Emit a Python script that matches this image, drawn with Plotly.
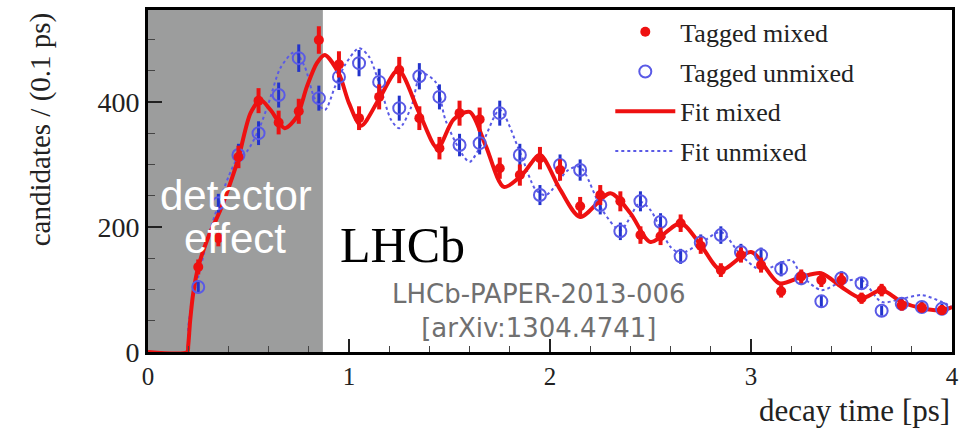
import plotly.graph_objects as go

# ---------------- data ----------------
bin_centers = [0.25, 0.35, 0.45, 0.55, 0.65, 0.75, 0.85, 0.95, 1.05, 1.15,
               1.25, 1.35, 1.45, 1.55, 1.65, 1.75, 1.85, 1.95, 2.05, 2.15,
               2.25, 2.35, 2.45, 2.55, 2.65, 2.75, 2.85, 2.95, 3.05, 3.15,
               3.25, 3.35, 3.45, 3.55, 3.65, 3.75, 3.85, 3.95]

tagged_mixed = [136, 182, 312, 402, 367, 385, 499, 460, 374, 408,
                451, 374, 326, 382, 372, 294, 283, 310, 291, 233,
                251, 241, 187, 185, 206, 170, 131, 155, 139, 97,
                121, 115, 115, 86, 99, 75, 71, 67]
tagged_mixed_err = [12, 13, 18, 20, 19, 20, 22, 21, 19, 20,
                    21, 19, 18, 20, 19, 17, 17, 18, 17, 15,
                    16, 16, 14, 14, 14, 13, 11, 12, 12, 10,
                    11, 11, 11, 9, 10, 9, 8, 8]

tagged_unmixed = [104, 238, 315, 350, 411, 470, 406, 440, 462, 432,
                  390, 441, 408, 331, 334, 382, 315, 251, 299, 291,
                  235, 193, 241, 208, 153, 175, 187, 160, 155, 133,
                  118, 81, 118, 110, 66, 77, 72, 69]
tagged_unmixed_err = [10, 15, 18, 19, 20, 22, 20, 21, 21, 21,
                      20, 21, 20, 18, 18, 20, 18, 16, 17, 17,
                      15, 14, 16, 14, 12, 13, 14, 13, 12, 12,
                      11, 9, 11, 10, 8, 9, 8, 8]

fit_mixed_t = [0.0, 0.195, 0.2, 0.21, 0.225, 0.25, 0.30, 0.36, 0.42, 0.45,
               0.51, 0.56, 0.61, 0.68, 0.74, 0.79, 0.84, 0.88, 0.95, 1.0,
               1.06, 1.15, 1.245, 1.35, 1.44, 1.52, 1.6, 1.68, 1.77, 1.86,
               1.95, 2.05, 2.15, 2.3, 2.4, 2.5, 2.65, 2.75, 2.85, 3.0,
               3.14, 3.25, 3.35, 3.45, 3.55, 3.65, 3.75, 3.85, 3.95, 4.0]
fit_mixed_y = [0, 0, 10, 51, 94, 136, 184, 227, 280, 310,
               382, 403, 387, 358, 376, 424, 462, 475, 445, 398,
               362, 405, 451, 382, 326, 372, 384, 330, 264, 283,
               315, 260, 216, 254, 222, 176, 206, 171, 131, 160,
               110, 120, 126, 104, 86, 99, 80, 70, 67, 72]

fit_unmixed_t = [0.0, 0.19, 0.2, 0.22, 0.25, 0.30, 0.35, 0.40, 0.45, 0.49,
                 0.55, 0.60, 0.66, 0.73, 0.78, 0.83, 0.88, 0.93, 0.98, 1.05,
                 1.10, 1.15, 1.21, 1.25, 1.31, 1.36, 1.43, 1.48, 1.56, 1.60,
                 1.67, 1.75, 1.85, 1.93, 1.98, 2.09, 2.15, 2.26, 2.35, 2.45,
                 2.50, 2.60, 2.65, 2.75, 2.85, 2.95, 3.05, 3.2, 3.25, 3.35,
                 3.45, 3.55, 3.65, 3.75, 3.85, 3.95, 4.0]
fit_unmixed_y = [0, 0, 40, 85, 120, 185, 235, 280, 312, 320,
                 355, 398, 455, 480, 456, 405, 387, 424, 459, 486,
                 472, 430, 371, 358, 392, 446, 432, 371, 318, 304,
                 339, 387, 320, 259, 251, 291, 296, 227, 195, 240,
                 227, 168, 158, 174, 192, 155, 131, 147, 123, 99,
                 112, 115, 80, 85, 91, 80, 72]

detector_region = [0.0, 0.87]

x_ticks = [0, 1, 2, 3, 4]
y_ticks = [0, 200, 400]

# ---------------- styles ----------------
RED = "#ee1111"
BLUE = "#2233cc"
LBLUE = "#5a5ae6"
SERIF = "Liberation Serif, Times New Roman, serif"
SANS = "Liberation Sans, Arial, sans-serif"

fig = go.Figure()

fig.add_trace(go.Scatter(
    x=fit_unmixed_t, y=fit_unmixed_y, mode="lines", name="Fit unmixed",
    line=dict(color=LBLUE, width=2, dash="dot", shape="spline", smoothing=0.8),
    legendrank=4, legendgroup="d"))
fig.add_trace(go.Scatter(
    x=fit_mixed_t, y=fit_mixed_y, mode="lines", name="Fit mixed",
    line=dict(color=RED, width=4, shape="spline", smoothing=0.8),
    legendrank=3, legendgroup="c"))
fig.add_trace(go.Scatter(
    x=bin_centers, y=tagged_unmixed, mode="markers", name="Tagged unmixed",
    marker=dict(symbol="circle-open", size=12, color=LBLUE, line=dict(width=2, color=LBLUE)),
    error_y=dict(type="data", array=tagged_unmixed_err, color=BLUE, thickness=3, width=0),
    legendrank=2, legendgroup="b"))
fig.add_trace(go.Scatter(
    x=bin_centers, y=tagged_mixed, mode="markers", name="Tagged mixed",
    marker=dict(symbol="circle", size=10, color=RED),
    error_y=dict(type="data", array=tagged_mixed_err, color=RED, thickness=4, width=0),
    legendrank=1, legendgroup="a"))

# detector-effect shaded region
fig.add_shape(type="rect", xref="x", yref="paper",
              x0=detector_region[0], x1=detector_region[1], y0=0, y1=1,
              fillcolor="#9c9d9d", line=dict(width=0), layer="below")

# texts
fig.add_annotation(x=0.44, y=251, xref="x", yref="y", text="detector", showarrow=False,
                   font=dict(family=SANS, size=42, color="white"))
fig.add_annotation(x=0.435, y=181, xref="x", yref="y", text="effect", showarrow=False,
                   font=dict(family=SANS, size=42, color="white"))
fig.add_annotation(x=1.264, y=171, xref="x", yref="y", text="LHCb", showarrow=False,
                   font=dict(family=SERIF, size=50, color="black"))
fig.add_annotation(x=1.945, y=66, xref="x", yref="y",
                   text="LHCb-PAPER-2013-006<br>[arXiv:1304.4741]",
                   showarrow=False, align="center",
                   font=dict(family="DejaVu Sans, sans-serif", size=26, color="#707070"))

# axis titles (placed as in the original: y title at top, x title at right)
fig.add_annotation(x=-0.134, y=1.0, xref="paper", yref="paper", xanchor="center",
                   yanchor="top", text="candidates / (0.1 ps)", textangle=-90,
                   showarrow=False, font=dict(family=SERIF, size=29, color="#222"))
fig.add_annotation(x=1.0, y=-0.170, xref="paper", yref="paper", xanchor="right",
                   yanchor="middle", text="decay time [ps]", showarrow=False,
                   font=dict(family=SERIF, size=31, color="#222"))

fig.update_layout(
    width=974, height=429,
    margin=dict(l=148, r=22, t=10, b=77, autoexpand=False),
    paper_bgcolor="white", plot_bgcolor="white",
    showlegend=True,
    legend=dict(x=0.575, y=1.005, xanchor="left", yanchor="top",
                bgcolor="rgba(0,0,0,0)", font=dict(family=SERIF, size=26, color="#222"),
                tracegroupgap=3, itemwidth=60),
    xaxis=dict(range=[0, 4], tickvals=x_ticks, ticktext=[str(v) for v in x_ticks],
               ticks="inside", ticklen=13, tickwidth=1.5, tickcolor="#222",
               showline=True, linewidth=3, linecolor="black", mirror=True,
               showgrid=False, zeroline=False,
               minor=dict(dtick=0.2, ticks="inside", ticklen=6, tickwidth=1, tickcolor="#444"),
               tickfont=dict(family=SERIF, size=25, color="#222")),
    yaxis=dict(range=[0, 547], tickvals=y_ticks, ticktext=[str(v) for v in y_ticks],
               ticks="inside", ticklen=14, tickwidth=1.5, tickcolor="#222",
               showline=True, linewidth=3, linecolor="black", mirror=True,
               showgrid=False, zeroline=False,
               minor=dict(dtick=50, ticks="inside", ticklen=7, tickwidth=1, tickcolor="#444"),
               tickfont=dict(family=SERIF, size=28, color="#222")),
)

fig.write_html("out.html")
